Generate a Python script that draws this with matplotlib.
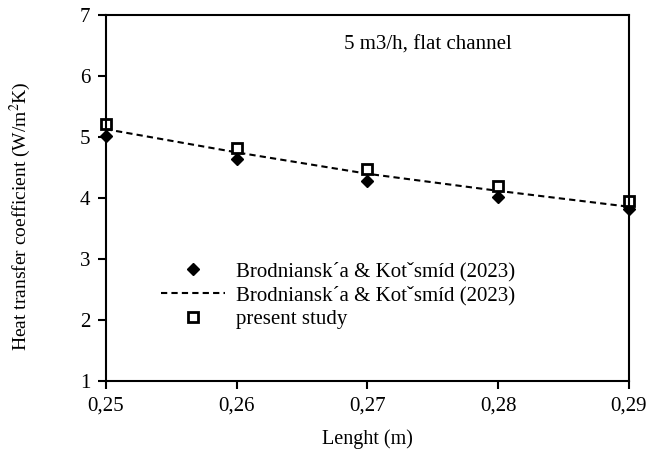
import matplotlib
matplotlib.use('Agg')
import matplotlib.pyplot as plt
from matplotlib.ticker import FuncFormatter

plt.rcParams['font.family'] = ['Liberation Serif', 'DejaVu Serif']
plt.rcParams['mathtext.fontset'] = 'stix'

length = [0.25, 0.26, 0.27, 0.28, 0.29]
ref_points = [5.02, 4.64, 4.28, 4.02, 3.83]
ref_fit = [5.13, 4.75, 4.40, 4.12, 3.86]
present = [5.21, 4.82, 4.47, 4.20, 3.96]

fig, ax = plt.subplots(figsize=(6.49, 4.54), dpi=100)
fig.subplots_adjust(left=0.163, right=0.969, top=0.967, bottom=0.160)

ax.plot(length, ref_points, 'D', color='black', markersize=6.5, clip_on=False,
        label='Brodniansk\u00b4a & Kot\u02c7sm\u00edd (2023)')
ax.plot(length, ref_fit, '--', color='black', linewidth=1.5, dashes=(3, 2), clip_on=False,
        label='Brodniansk\u00b4a & Kot\u02c7sm\u00edd (2023)')
ax.plot(length, present, 's', markerfacecolor='white', markeredgecolor='black',
        markeredgewidth=2, markersize=7, clip_on=False, label='present study')

ax.set_xlim(0.25, 0.29)
ax.set_ylim(1, 7)
ax.set_xticks(length)
ax.set_yticks(range(1, 8))
ax.xaxis.set_major_formatter(FuncFormatter(lambda v, p: ('%.2f' % v).replace('.', ',')))
ax.tick_params(direction='out', length=6, width=1.5, labelsize=15, pad=5)
for s in ax.spines.values():
    s.set_linewidth(1.5)

ax.set_xlabel('Lenght (m)', fontsize=14.5, labelpad=10)
ax.set_ylabel('Heat transfer coefficient (W/m$^2$K)', fontsize=14)
ax.yaxis.set_label_coords(-0.14, 0.45)
ax.text(0.2682, 6.43, '5 m3/h, flat channel', fontsize=15, va='baseline')

ax.legend(loc='center left', bbox_to_anchor=(0.085, 0.235), frameon=False,
          fontsize=15, handlelength=3.1, labelspacing=0.2, borderpad=0, handletextpad=0.5)

fig.savefig('out.png', dpi=100)
